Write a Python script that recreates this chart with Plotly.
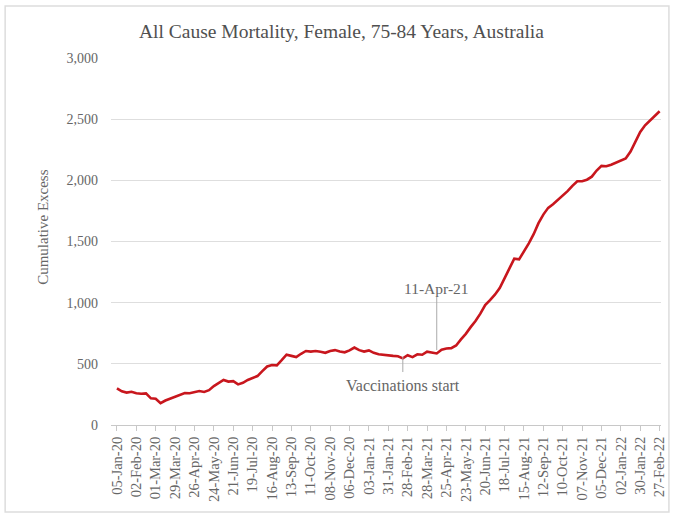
import pandas as pd
import plotly.graph_objects as go

# weekly cumulative excess deaths
start_date = "2020-01-05"
excess = [
    300, 275, 265, 272, 260, 255, 258, 218, 215, 178,
    200, 215, 228, 245, 262, 260, 270, 278, 270, 285,
    318, 345, 368, 355, 358, 332, 345, 368, 385, 400,
    440, 478, 490, 488, 530, 575, 565, 555, 582, 605,
    600, 605, 598, 590, 605, 612, 600, 594, 610, 633,
    612, 600, 610, 590, 578, 572, 566, 565, 562, 545,
    570, 555, 578, 574, 600, 590, 585, 615, 625, 628,
    650, 700, 745, 800, 850, 910, 980, 1020, 1065, 1120,
    1200, 1280, 1360, 1354, 1415, 1485, 1560, 1650, 1720, 1775,
    1805, 1840, 1875, 1912, 1955, 1993, 1993, 2005, 2030, 2080,
    2118, 2115, 2128, 2145, 2163, 2178, 2235, 2310, 2395, 2450,
    2490, 2522, 2565,
]
weeks = pd.date_range(start_date, periods=len(excess), freq="7D")

vacc_date = "2021-02-21"
apr_date = "2021-04-11"

W, H = 677, 514
L, R, T, B = 111, 10, 58, 89
pw, ph = W - L - R, H - T - B


def px_x(x):
    # page pixel -> paper x
    return (x - L) / pw


def px_y(y):
    # page pixel -> paper y
    return (H - B - y) / ph


font = "Liberation Serif, Times New Roman, serif"
grey = "#666666"

fig = go.Figure()
fig.add_trace(go.Scatter(x=weeks, y=excess, mode="lines",
                         line=dict(color="#c8161d", width=2.6),
                         showlegend=False, hoverinfo="x+y"))

# marker lines
fig.add_shape(type="line", x0=vacc_date, x1=vacc_date, y0=433, y1=556,
              xref="x", yref="y", line=dict(color="#aaaaaa", width=1))
fig.add_shape(type="line", x0=apr_date, x1=apr_date, y0=613, y1=1046,
              xref="x", yref="y", line=dict(color="#aaaaaa", width=1))
fig.add_annotation(x=vacc_date, y=327, text="Vaccinations start", showarrow=False,
                   font=dict(family=font, size=16, color=grey))
fig.add_annotation(x=apr_date, y=1119, text="11-Apr-21", showarrow=False,
                   font=dict(family=font, size=15.5, color=grey))

# y axis title
fig.add_annotation(xref="paper", yref="paper", x=px_x(32), y=px_y(227),
                   text="Cumulative Excess", textangle=-90, showarrow=False,
                   font=dict(family=font, size=15, color=grey))

# outer frame
fig.add_shape(type="rect", xref="paper", yref="paper",
              x0=px_x(4), x1=px_x(675),
              y0=px_y(512), y1=px_y(6),
              line=dict(color="#dddddd", width=1.5), layer="below")

fig.update_layout(
    width=W, height=H,
    margin=dict(l=L, r=R, t=T, b=B),
    paper_bgcolor="white", plot_bgcolor="white",
    font=dict(family=font, color=grey),
    title=dict(text="All Cause Mortality, Female, 75-84 Years, Australia",
               x=px_x(344), xref="paper", xanchor="center",
               y=1 - 31 / H, yanchor="middle",
               font=dict(family=font, size=19.5, color="#505050")),
)
fig.update_xaxes(
    range=[weeks[0] - pd.Timedelta(days=8.6), weeks[-1] + pd.Timedelta(days=2)],
    tick0=start_date, dtick=28 * 86400000, tickformat="%d-%b-%y",
    tickangle=-90, tickfont=dict(family=font, size=14.5, color=grey),
    showgrid=False, showline=True, linecolor="#c8c8c8", linewidth=1,
    ticks="outside", ticklen=5, tickcolor="#c8c8c8", zeroline=False,
)
fig.update_yaxes(
    range=[0, 3000], dtick=500, tickformat=",",
    tickfont=dict(family=font, size=14, color=grey),
    showgrid=True, gridcolor="#dedede", gridwidth=1,
    zeroline=False, showline=False, ticks="", ticklabelstandoff=12,
)

# drop the default 8px page margin so the figure sits at the window corner
fig.write_html("out.html", config={"displayModeBar": False},
               post_script="document.body.style.margin='0';")
